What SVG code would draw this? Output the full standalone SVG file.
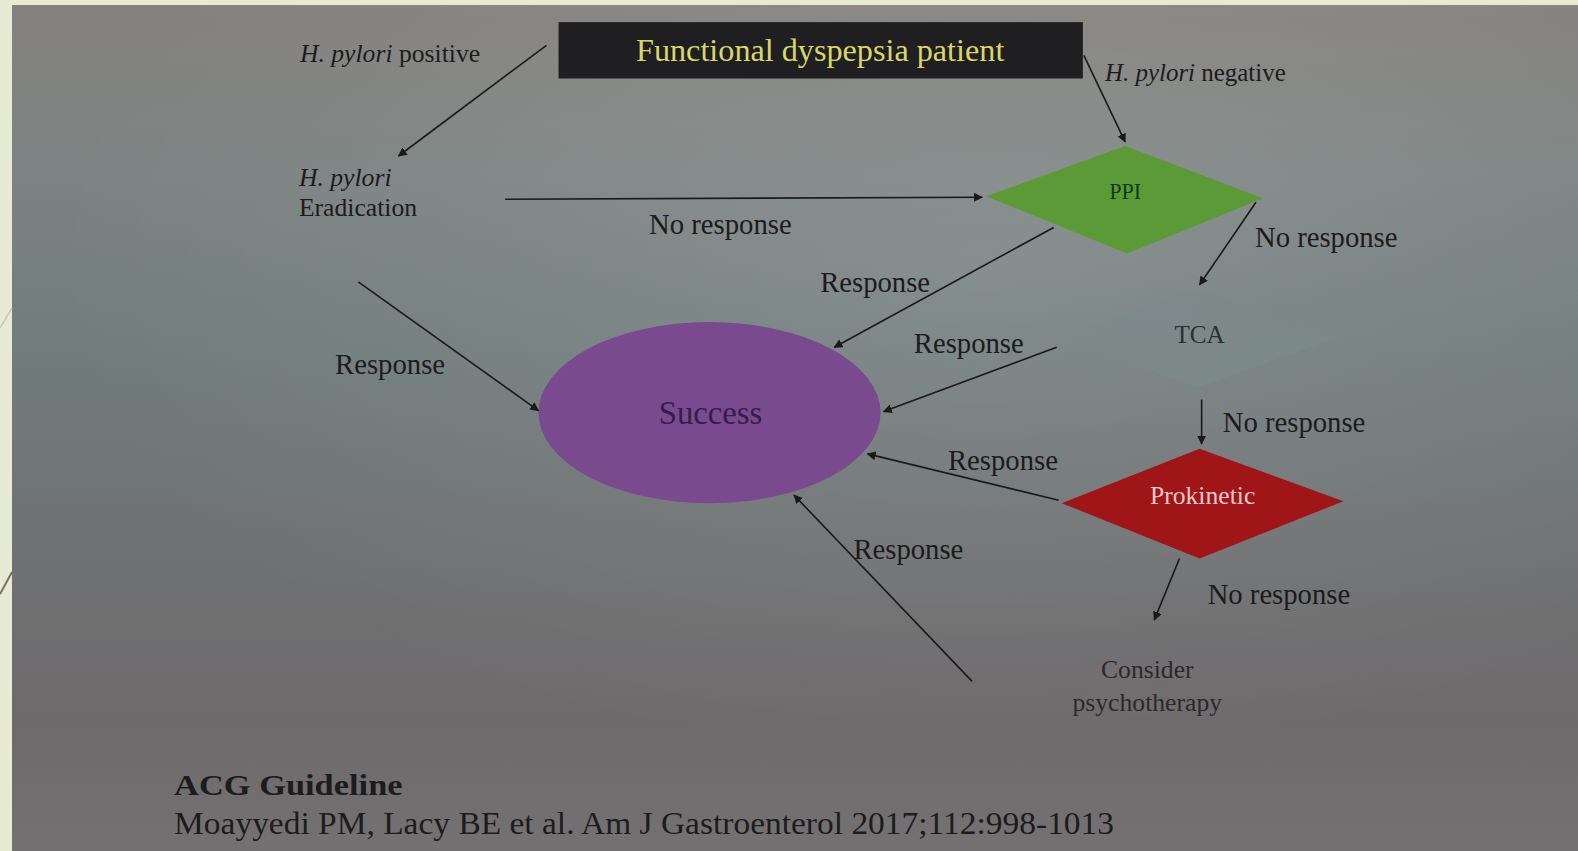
<svg xmlns="http://www.w3.org/2000/svg" width="1578" height="851" viewBox="0 0 1578 851">
<defs>
<linearGradient id="bg" x1="0" y1="0" x2="0" y2="1">
<stop offset="0" stop-color="#84817e"/>
<stop offset="0.2" stop-color="#7c8382"/>
<stop offset="0.4" stop-color="#717c7d"/>
<stop offset="0.65" stop-color="#6f7172"/>
<stop offset="0.85" stop-color="#6e6a6c"/>
<stop offset="1" stop-color="#737172"/>
</linearGradient>
<radialGradient id="glow" cx="0.62" cy="0.3" r="0.6">
<stop offset="0" stop-color="#ffffff" stop-opacity="0.12"/>
<stop offset="1" stop-color="#ffffff" stop-opacity="0"/>
</radialGradient>
<marker id="ah" viewBox="0 0 10 10" refX="9" refY="5" markerWidth="9" markerHeight="9" markerUnits="userSpaceOnUse" orient="auto">
<path d="M0,0 L10,5 L0,10 z" fill="#1a1a1a"/>
</marker>
<style>
.t{font-family:"Liberation Serif","Times New Roman",serif;fill:#1c1c1c;}
.c{stroke:#1a1a1a;stroke-width:1.6;fill:none;marker-end:url(#ah);}
</style>
</defs>
<rect width="1578" height="851" fill="#e7ebd5"/>
<rect x="12" y="5" width="1566" height="846" fill="url(#bg)"/>
<rect x="12" y="5" width="1566" height="846" fill="url(#glow)"/>
<line x1="0" y1="328" x2="12" y2="308" stroke="#c8c8b8" stroke-width="1.5"/>
<line x1="0" y1="594" x2="12" y2="572" stroke="#7a7260" stroke-width="2"/>

<g transform="scale(1.00638)">
<g id="start">
<rect x="555" y="22" width="521" height="56" fill="#1f1e21"/>
<text class="t" x="815" y="61" font-size="32" text-anchor="middle" style="fill:#d9d66c">Functional dyspepsia patient</text>
</g>
<g id="eradication">
<text class="t" x="297" y="185" font-size="25.5" font-style="italic">H. pylori</text>
<text class="t" x="297" y="215" font-size="25.5">Eradication</text>
</g>
<g id="ppi">
<polygon points="980,195 1118,145 1255,197 1120,252" fill="#5c9a38"/>
<text class="t" x="1118" y="198" font-size="22" text-anchor="middle" style="fill:#0f3a12">PPI</text>
</g>
<g id="tca">
<polygon points="1055,335 1190,288 1330,335 1190,385" fill="#7c898a" opacity="0.85"/>
<text class="t" x="1192" y="341" font-size="25" text-anchor="middle" style="fill:#2a3031">TCA</text>
</g>
<g id="prokinetic">
<polygon points="1055,500 1192,446 1335,498 1192,555" fill="#9f1518"/>
<text class="t" x="1195" y="501" font-size="25.5" text-anchor="middle" style="fill:#e6c9c9">Prokinetic</text>
</g>
<g id="success">
<ellipse cx="705" cy="410" rx="170" ry="90" fill="#7a4a8f"/>
<text class="t" x="706" y="421" font-size="32.5" text-anchor="middle" style="fill:#3a1a4e">Success</text>
</g>
<g id="psychotherapy">
<text class="t" x="1140" y="674" font-size="25.5" text-anchor="middle" style="fill:#2a2a2a">Consider</text>
<text class="t" x="1140" y="706" font-size="25.5" text-anchor="middle" style="fill:#2a2a2a">psychotherapy</text>
</g>

<g id="connectors">
<line class="c" x1="543" y1="45" x2="396" y2="155"/>
<line class="c" x1="1077" y1="55" x2="1118" y2="141"/>
<line class="c" x1="502" y1="198" x2="976" y2="196"/>
<line class="c" x1="1248" y1="201" x2="1192" y2="283"/>
<line class="c" x1="1047" y1="226" x2="829" y2="345"/>
<line class="c" x1="1050" y1="345" x2="878" y2="409"/>
<line class="c" x1="1194" y1="397" x2="1194" y2="441"/>
<line class="c" x1="1052" y1="497" x2="862" y2="451"/>
<line class="c" x1="1172" y1="555" x2="1147" y2="616"/>
<line class="c" x1="966" y1="677" x2="789" y2="492"/>
<line class="c" x1="356" y1="280" x2="535" y2="408"/>
</g>

<g id="labels">
<text class="t" x="298" y="62" font-size="25.5"><tspan font-style="italic">H. pylori</tspan> positive</text>
<text class="t" x="1098" y="80" font-size="24.8"><tspan font-style="italic">H. pylori</tspan> negative</text>
<text class="t" x="645" y="233" font-size="28.5">No response</text>
<text class="t" x="1247" y="245" font-size="28.5">No response</text>
<text class="t" x="815" y="290" font-size="28.5">Response</text>
<text class="t" x="908" y="351" font-size="28.5">Response</text>
<text class="t" x="1215" y="429" font-size="28.5">No response</text>
<text class="t" x="942" y="467" font-size="28.5">Response</text>
<text class="t" x="1200" y="600" font-size="28.5">No response</text>
<text class="t" x="848" y="555" font-size="28.5">Response</text>
<text class="t" x="333" y="372" font-size="28.5">Response</text>
</g>

<g id="citation">
<text class="t" x="173" y="790" font-size="30" font-weight="bold" textLength="227" lengthAdjust="spacingAndGlyphs">ACG Guideline</text>
<text class="t" x="173" y="829" font-size="31" textLength="934" lengthAdjust="spacingAndGlyphs">Moayyedi PM, Lacy BE et al. Am J Gastroenterol 2017;112:998-1013</text>
</g>
</g>
</svg>
